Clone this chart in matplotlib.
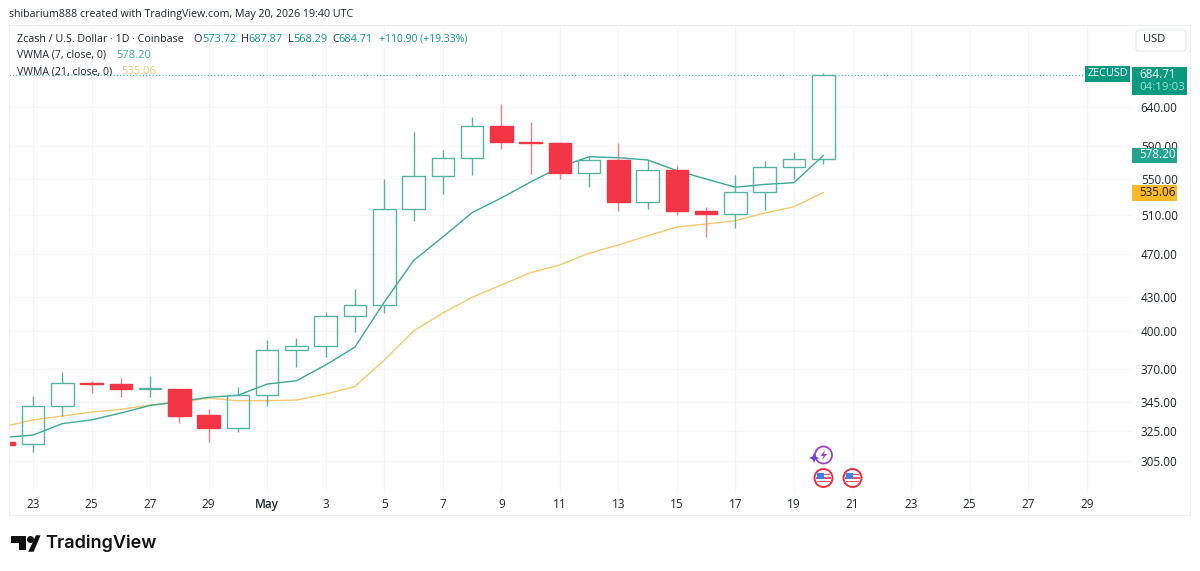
import numpy as np
import matplotlib
matplotlib.use("Agg")
import matplotlib.pyplot as plt
from matplotlib.patches import Rectangle, FancyBboxPatch, Circle, Polygon

plt.rcParams['font.family'] = ['Open Sans', 'DejaVu Sans']

# ---------- data (days counted from Apr 23; first candle is Apr 22) ----------
days = list(range(-1, 28))
opens = [317.1, 315.9, 342.4, 359.1, 358.6, 354.9, 354.6, 335.8, 327.0, 350.2,
         384.8, 388.0, 412.9, 422.5, 516.9, 554.2, 575.5, 614.7, 594.4, 593.5,
         557.4, 572.4, 524.2, 561.3, 515.1, 511.2, 536.0, 564.4, 573.72]
highs = [320.0, 349.4, 367.2, 360.8, 362.6, 364.4, 354.6, 340.0, 356.4, 392.9,
         394.3, 416.4, 436.9, 550.4, 607.0, 584.9, 627.1, 643.6, 619.8, 595.2,
         577.6, 593.9, 572.8, 565.6, 519.4, 555.1, 571.6, 582.5, 687.87]
lows = [314.0, 311.0, 335.1, 351.4, 348.5, 348.9, 330.0, 317.6, 324.3, 342.2,
        371.6, 378.9, 399.8, 416.0, 504.4, 533.1, 554.7, 585.7, 555.9, 550.1,
        541.6, 515.1, 516.6, 510.4, 487.2, 496.4, 515.8, 550.1, 568.29]
closes = [315.6, 342.4, 358.9, 358.5, 354.4, 355.3, 335.1, 326.6, 350.2, 384.5,
          388.0, 412.9, 422.5, 516.9, 554.2, 575.5, 614.7, 594.4, 593.2, 557.4,
          572.4, 524.2, 561.3, 514.7, 511.2, 536.0, 564.4, 573.9, 684.71]
vwma7 = [320.4, 322.0, 329.8, 332.4, 337.2, 342.6, 345.3, 348.5, 350.0, 358.3,
         360.8, 372.9, 387.2, 425.4, 463.9, 487.5, 513.0, 529.0, 547.0, 564.4,
         576.7, 575.5, 572.8, 560.1, 550.4, 541.0, 544.3, 546.2, 578.2]
vwma21 = [327.7, 332.4, 335.1, 337.9, 339.8, 342.9, 345.1, 347.8, 346.0, 346.0,
          346.5, 350.9, 356.5, 376.8, 400.4, 415.7, 429.6, 440.9, 452.4, 459.8,
          471.2, 479.4, 488.8, 497.8, 500.9, 504.4, 512.6, 519.4, 535.06]
date_ticks = [0, 2, 4, 6, 8, 10, 12, 14, 16, 18, 20, 22, 24, 26, 28, 30, 32, 34, 36]
date_labels = ['23', '25', '27', '29', 'May', '3', '5', '7', '9', '11', '13', '15', '17', '19', '21', '23', '25', '27', '29']
price_ticks = [305, 325, 345, 370, 400, 430, 470, 510, 550, 590, 640]

UP = '#58b2a2'
UP_SOLID = '#089981'
DOWN = '#f23645'
TEAL = '#3aa997'
GOLD = '#f8c86c'
GRID = '#f3f5f7'
TXT = '#1f2430'

W, H = 1200, 571
fig = plt.figure(figsize=(W / 100, H / 100), dpi=100, facecolor='white')

L, R, T, B = 9, 1131, 25, 491
ax = fig.add_axes([L / W, 1 - B / H, (R - L) / W, (B - T) / H])
ax.set_yscale('log')
ax.set_xlim((L - 33) / 29.27, (R - 33) / 29.27)
ax.set_ylim(640 * np.exp((107 - B) / 477.6), 640 * np.exp((107 - T) / 477.6))
for s in ax.spines.values():
    s.set_visible(False)

ax.yaxis.tick_right()
ax.set_yticks(price_ticks)
ax.set_yticklabels([f'{p:.2f}' for p in price_ticks], fontsize=8.5, color=TXT)
ax.minorticks_off()
ax.set_xticks(date_ticks)
ax.set_xticklabels(date_labels, fontsize=8.5, color=TXT)
ax.get_xticklabels()[4].set_fontweight('semibold')
ax.tick_params(axis='y', pad=7, which='both', length=0)
ax.tick_params(axis='x', pad=5, length=0)
ax.grid(True, color=GRID, lw=0.9)
ax.set_axisbelow(True)

ax.plot(days, vwma21, color=GOLD, lw=1.0, zorder=2)
ax.plot(days, vwma7, color=TEAL, lw=1.0, zorder=2.1)
ax.axhline(closes[-1], color='#22a58e', lw=0.9, ls=(0, (1, 1.6)), alpha=0.75, zorder=1.5)

bw = 0.77
for d, o, h, l, c in zip(days, opens, highs, lows, closes):
    up = c >= o
    col = UP if up else DOWN
    top, bot = max(o, c), min(o, c)
    wick_col = UP if up else '#f0808c'
    ax.plot([d, d], [top, h], color=wick_col, lw=1.0, zorder=3, solid_capstyle='butt')
    ax.plot([d, d], [bot, l], color=wick_col, lw=1.0, zorder=3, solid_capstyle='butt')
    ax.add_patch(Rectangle((d - bw / 2, bot), bw, top - bot, facecolor='none' if up else DOWN,
                           edgecolor=col, lw=1.0, zorder=4))

# ---------- page furniture, in pixel coordinates ----------
ov = fig.add_axes([0, 0, 1, 1], zorder=10, facecolor='none')
ov.set_xlim(0, W)
ov.set_ylim(H, 0)
ov.axis('off')

ov.add_patch(Rectangle((9, 25), 1181, 490, fc='none', ec='#eceef1', lw=0.8))


def t(x, y, s, color=TXT, size=8.0, **kw):
    ov.text(x, y, s, color=color, fontsize=size, va='center', ha=kw.pop('ha', 'left'), **kw)


t(9, 14, 'shibarium888 created with TradingView.com, May 20, 2026 19:40 UTC', size=7.65)
t(17, 39, 'Zcash / U.S. Dollar · 1D · Coinbase', size=7.75)
for x, s, c in [(193.5, 'O', TXT), (201.8, '573.72', UP_SOLID), (240.5, 'H', TXT), (248.2, '687.87', UP_SOLID),
                (287.5, 'L', TXT), (292.8, '568.29', UP_SOLID), (332, 'C', TXT), (338.2, '684.71', UP_SOLID)]:
    t(x, 39, s, color=c, size=7.9)
t(379, 39, '+110.90 (+19.33%)', color=UP_SOLID, size=7.5)
t(17, 55, 'VWMA (7, close, 0)', size=7.6)
t(116, 55, '578.20', color=TEAL)
t(17, 71.5, 'VWMA (21, close, 0)', size=7.6)
t(121.7, 71.5, '535.06', color=GOLD)

# price scale tags
ov.add_patch(FancyBboxPatch((1136, 30), 50, 21, boxstyle='round,pad=0,rounding_size=3', fc='white', ec='#e6e8ec', lw=0.8))
t(1143, 40, 'USD')
ov.add_patch(Rectangle((1085, 66), 45, 15.5, fc=UP_SOLID, ec='none'))
t(1107.5, 74, 'ZECUSD', color='white', ha='center', size=7.8)
ov.add_patch(Rectangle((1132, 66.5), 55, 28, fc=UP_SOLID, ec='none'))
t(1139.5, 74, '684.71', color='white', size=8.4)
t(1139.5, 87, '04:19:03', color='#a8dcd2', size=8.2)
ov.add_patch(Rectangle((1132, 147.5), 45, 15.5, fc='#22a58e', ec='none'))
t(1139.5, 155, '578.20', color='white', size=8.4)
ov.add_patch(Rectangle((1132, 185), 45, 15.5, fc='#fbb829', ec='none'))
t(1139.5, 192.5, '535.06', color='#1a1a1a', size=8.4)

# event icons
ov.add_patch(Circle((823.5, 455), 8.5, fc='white', ec='#9c3fc9', lw=1.3))
ov.add_patch(Polygon([(825, 450), (820.5, 456), (823.5, 456), (822, 460), (827, 454), (824, 454)], fc='#9c3fc9', ec='none'))
ov.add_patch(Polygon([(814, 453), (815.5, 456.5), (819, 458), (815.5, 459.5), (814, 463), (812.5, 459.5),
                      (809, 458), (812.5, 456.5)], fc='#6a3fe0', ec='none'))
for cx in (823.5, 852.5):
    ov.add_patch(Circle((cx, 478), 9, fc='white', ec='#e8323f', lw=1.4))
    for dy, wid in [(-3.5, 13), (0, 15), (3.5, 13)]:
        ov.add_patch(Rectangle((cx - wid / 2, 478 + dy - 0.8), wid, 1.7, fc='#f0505c', ec='none', zorder=3))
    ov.add_patch(Rectangle((cx - 6.5, 472.5), 7, 6, fc='#3f7fe8', ec='none', zorder=4))

# logo
ov.add_patch(Polygon([(11, 536), (26, 536), (26, 550), (19, 550), (19, 543), (11, 543)], fc='#111', ec='none'))
ov.add_patch(Circle((30.5, 539.5), 3.5, fc='#111', ec='none'))
ov.add_patch(Polygon([(31, 550), (37, 537), (38, 537), (32.5, 550)], fc='#111', ec='#111', lw=2.5))
ov.text(45.5, 543, 'TradingView', fontsize=13, fontweight='semibold', color='#111', va='center', family=['Inter', 'DejaVu Sans'])

fig.savefig('out.png', dpi=100)
